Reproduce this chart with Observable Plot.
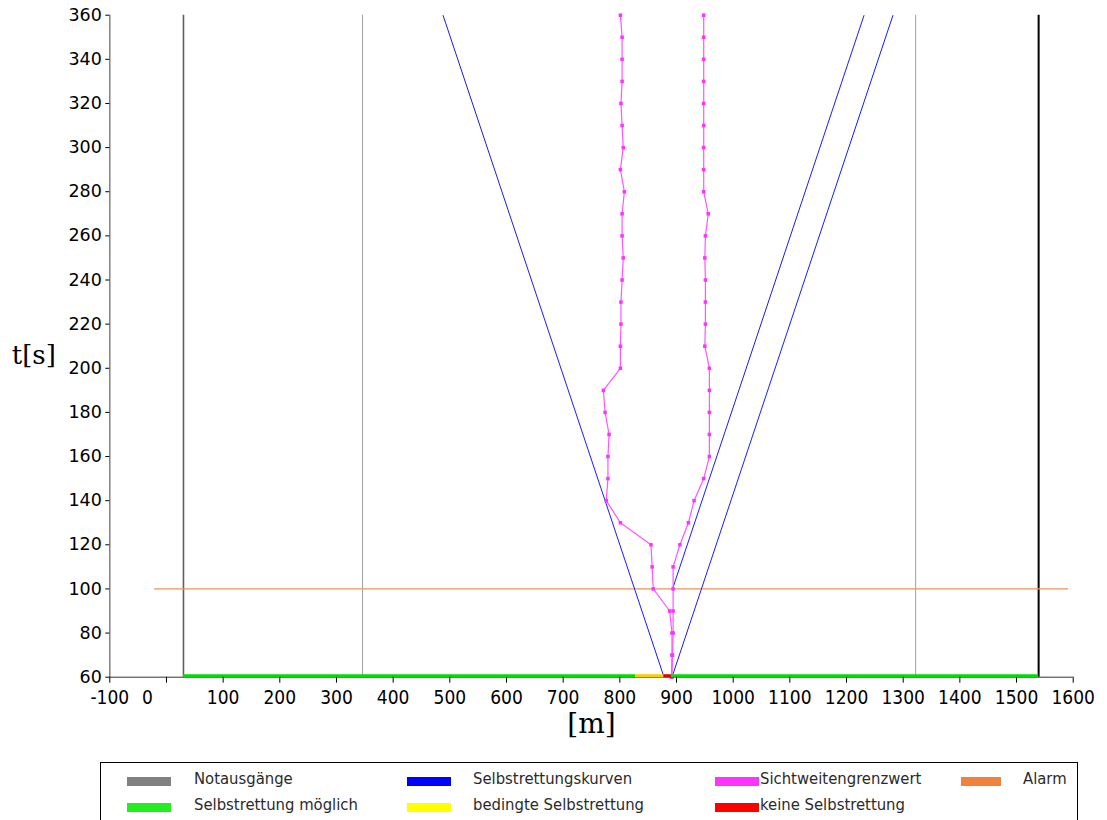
<!DOCTYPE html>
<html><head><meta charset="utf-8">
<script src="https://cdn.jsdelivr.net/npm/d3@7"></script>
<script src="https://cdn.jsdelivr.net/npm/@observablehq/plot@0.6"></script>
<style>
html,body{margin:0;padding:0;background:#fff}
body{width:1107px;height:820px;overflow:hidden;position:relative;font-family:"DejaVu Sans",sans-serif}
#chart{position:absolute;left:0;top:0}
#legend{position:absolute;left:100px;top:762px;width:976px;height:90px;border:1px solid #000;background:#fff}
.sw{position:absolute;width:44px;height:9px}
.lb{position:absolute;font-size:16.5px;color:#2a2a2a;font-family:"DejaVu Sans Condensed","DejaVu Sans",sans-serif;font-stretch:condensed;line-height:18px;white-space:nowrap}
</style>
</head><body>
<div id="chart"></div>
<div id="legend"></div>
<script>
// ---- data ----
const xTicks = [-100, 0, 100, 200, 300, 400, 500, 600, 700, 800, 900, 1000, 1100, 1200, 1300, 1400, 1500, 1600];
const yTicks = [60, 80, 100, 120, 140, 160, 180, 200, 220, 240, 260, 280, 300, 320, 340, 360];

// Notausgänge (emergency exits) positions [m]
const exitPositions = [30, 346, 1322, 1539];
const exitShade = ["dark", "light", "light", "black"];

// Alarm time line
const alarmTime = [100];
const alarmFrom = [-21];
const alarmTo = [1592];

// Selbstrettungskurven (self-rescue curves)
const curveX0 = [878, 892, 893];
const curveT0 = [60, 60, 100];
const curveX1 = [488, 1282, 1231];
const curveT1 = [360, 360, 360];

// Sichtweitengrenzwert (visibility limit)
const sichtTimes = [60, 70, 80, 90, 100, 110, 120, 130, 140, 150, 160, 170, 180, 190, 200, 210, 220, 230, 240, 250, 260, 270, 280, 290, 300, 310, 320, 330, 340, 350, 360];
const sichtLeft  = [891, 892, 892, 888, 859, 857, 855, 801, 776, 779, 779, 781, 774, 771, 801, 801, 802, 802, 804, 806, 804, 804, 808, 801, 806, 804, 802, 804, 804, 804, 801];
const sichtRight = [892, 893, 894, 894, 894, 894, 906, 921, 931, 948, 958, 958, 958, 958, 958, 950, 951, 951, 951, 950, 951, 956, 948, 948, 948, 948, 948, 948, 948, 948, 948];

// Ground status segments at t = 60
const groundFrom = [30, 828, 878, 891];
const groundTo = [828, 878, 891, 1539];
const groundStatus = ["möglich", "bedingt", "keine", "möglich"];

// Legend
const legendLabels = ["Notausgänge", "Selbstrettungskurven", "Sichtweitengrenzwert", "Alarm",
                      "Selbstrettung möglich", "bedingte Selbstrettung", "keine Selbstrettung"];
const legendColors = ["#808080", "#0000ff", "#ff33ff", "#f0823c", "#22ee22", "#ffff00", "#ff0000"];

// ---- build ----
const exits = exitPositions.map((x, i) => ({x, shade: exitShade[i]}));
const exitStroke = {dark: "#606060", light: "#a0a0a0", black: "#000000"};
const exitWidth = {dark: 1.6, light: 1, black: 2};
const alarm = alarmTime.map((t, i) => ({t, x1: alarmFrom[i], x2: alarmTo[i]}));
const curves = curveX0.map((x, i) => ({x1: x, y1: curveT0[i], x2: curveX1[i], y2: curveT1[i]}));
const left = sichtTimes.map((t, i) => ({t, x: sichtLeft[i]}));
const right = sichtTimes.map((t, i) => ({t, x: sichtRight[i]}));
const ground = groundFrom.map((x1, i) => ({x1, x2: groundTo[i], s: groundStatus[i]}));
const groundColor = {"möglich": "#00dd00", "bedingt": "#f5d000", "keine": "#dd0000"};

const tickFont = {fontFamily: "DejaVu Sans", fontSize: 17.5};
const xFont = {fontFamily: "DejaVu Sans Condensed, DejaVu Sans", fontSize: 19};

const chart = Plot.plot({
  width: 1107,
  height: 760,
  marginLeft: 109.3,
  marginRight: 34.3,
  marginTop: 14.7,
  marginBottom: 83.3,
  style: {background: "transparent", color: "#000", overflow: "visible"},
  x: {domain: [-100, 1600]},
  y: {domain: [60, 360]},
  marks: [
    Plot.ruleX(exits, {x: "x", y1: 60, y2: 360, stroke: d => exitStroke[d.shade], strokeWidth: d => exitWidth[d.shade]}),
    Plot.ruleY(alarm, {y: "t", x1: "x1", x2: "x2", stroke: "#f0915a", strokeWidth: 1.2}),
    Plot.link(curves, {x1: "x1", y1: "y1", x2: "x2", y2: "y2", stroke: "#1a1aff", strokeWidth: 1}),
    Plot.line(left, {x: "x", y: "t", stroke: "#ff55ff", strokeWidth: 1.2}),
    Plot.line(right, {x: "x", y: "t", stroke: "#ff55ff", strokeWidth: 1.2}),
    Plot.dot(left, {x: "x", y: "t", symbol: "square", r: 2, fill: "#ff33ff", stroke: "none"}),
    Plot.dot(right, {x: "x", y: "t", symbol: "square", r: 2, fill: "#ff33ff", stroke: "none"}),
    Plot.ruleX([-100], {y1: 60, y2: 360, stroke: "#808080", strokeWidth: 1.5}),
    Plot.ruleY([60], {x1: -100, x2: 1600, stroke: "#333", strokeWidth: 1}),
    Plot.ruleY(ground, {y: 60, x1: "x1", x2: "x2", stroke: d => groundColor[d.s], strokeWidth: 3, dy: -1.5}),
    Plot.axisY({ticks: yTicks, tickSize: 4, tickPadding: 4, label: null, ...tickFont, fill: "#000"}),
    Plot.axisX({ticks: xTicks, tickSize: 6, tickPadding: 7, label: null, tickFormat: d => d === 0 ? "" : String(d), ...xFont, fill: "#000"}),
    Plot.axisX({ticks: [0], tickSize: 0, tickPadding: 13, dx: -19, label: null, tickFormat: d => String(d), ...xFont, fill: "#000"}),
    Plot.text(["t[s]"], {frameAnchor: "left", dx: -76, dy: 9, text: d => d, fontFamily: "DejaVu Serif", fontSize: 26, textAnchor: "middle", fill: "#000"}),
    Plot.text(["[m]"], {frameAnchor: "bottom", dy: 56, text: d => d, fontFamily: "DejaVu Serif", fontSize: 28, textAnchor: "middle", fill: "#000"})
  ]
});
document.getElementById("chart").appendChild(chart);

// legend
const lg = document.getElementById("legend");
const swX = [26, 306, 614, 860];
const lbX = [93, 372, 659, 922];
const rowY = [14, 40];
const order = [[0,0],[0,1],[0,2],[0,3],[1,0],[1,1],[1,2]];
legendLabels.forEach((lab, i) => {
  const [r, c] = order[i];
  const sw = document.createElement("div");
  sw.className = "sw";
  sw.style.left = swX[c] + "px";
  sw.style.top = (rowY[r]) + "px";
  sw.style.width = (c === 3 ? 40 : 44) + "px";
  sw.style.background = legendColors[i];
  lg.appendChild(sw);
  const t = document.createElement("div");
  t.className = "lb";
  t.style.left = lbX[c] + "px";
  t.style.top = (rowY[r] - 7) + "px";
  t.textContent = lab;
  lg.appendChild(t);
});
</script>
</body></html>
